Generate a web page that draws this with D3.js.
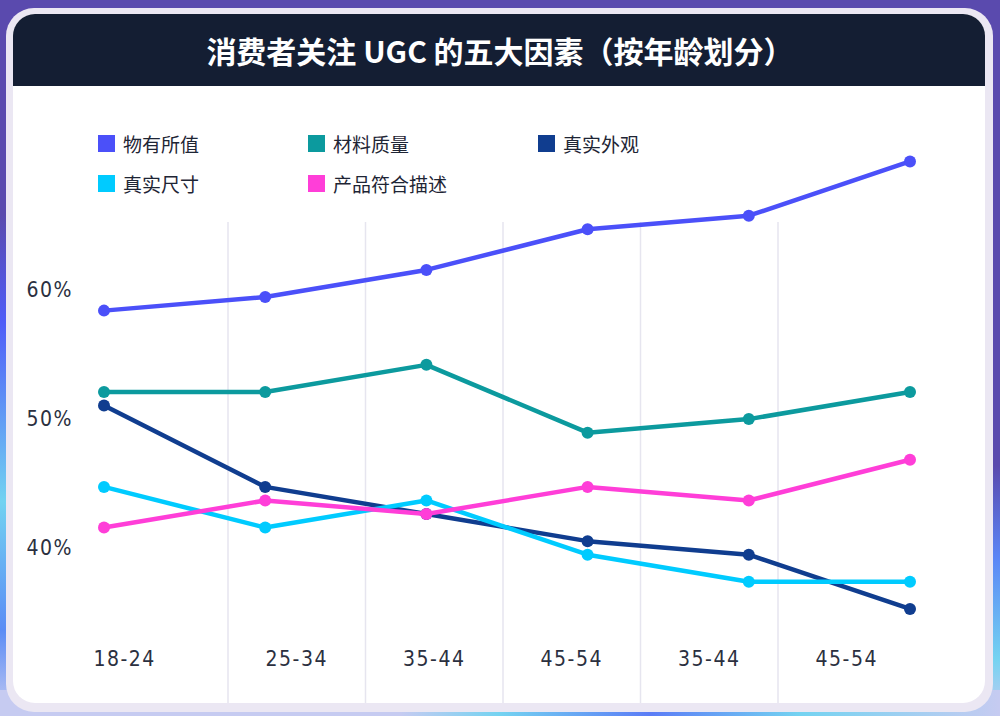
<!DOCTYPE html>
<html><head><meta charset="utf-8">
<script src="https://cdn.jsdelivr.net/npm/d3@7"></script>
<style>
html,body{margin:0;padding:0;background:#5a4aae;}
svg{display:block;}
</style></head>
<body>
<svg id="c" width="1000" height="716"></svg>
<script>
const title = "消费者关注 UGC 的五大因素（按年龄划分）";
const categories = ["18-24","25-34","35-44","45-54","35-44","45-54"];
const seriesNames = ["物有所值","材料质量","真实外观","真实尺寸","产品符合描述"];
const seriesColors = ["#4b50f9","#0c9a9e","#103d8f","#00cbff","#ff3ed8"];
const valueForMoney = [58, 59, 61, 64, 65, 69];
const materialQuality = [52, 52, 54, 49, 50, 52];
const realAppearance = [51, 45, 43, 41, 40, 36];
const realSize = [45, 42, 44, 40, 38, 38];
const matchDescription = [42, 44, 43, 45, 44, 47];
const yTicks = [40, 50, 60];

const series = [valueForMoney, materialQuality, realAppearance, realSize, matchDescription];

const svg = d3.select("#c");
const defs = svg.append("defs");

// background
const lg = defs.append("linearGradient").attr("id","bgL").attr("x1",0).attr("y1",0).attr("x2",0).attr("y2",1);
lg.append("stop").attr("offset","0%").attr("stop-color","#5a4aae");
lg.append("stop").attr("offset","30%").attr("stop-color","#5a4aae");
lg.append("stop").attr("offset","45%").attr("stop-color","#4f5cf8");
lg.append("stop").attr("offset","70%").attr("stop-color","#72d2f1");
lg.append("stop").attr("offset","88%").attr("stop-color","#5b8cf5");
lg.append("stop").attr("offset","100%").attr("stop-color","#c6cbf1");
const rg = defs.append("linearGradient").attr("id","bgR").attr("x1",0).attr("y1",0).attr("x2",0).attr("y2",1);
rg.append("stop").attr("offset","0%").attr("stop-color","#5a4aae");
rg.append("stop").attr("offset","65%").attr("stop-color","#5a4aae");
rg.append("stop").attr("offset","78%").attr("stop-color","#5b86f6");
rg.append("stop").attr("offset","92%").attr("stop-color","#74d3f1");
rg.append("stop").attr("offset","100%").attr("stop-color","#c6cbf1");
const bg = defs.append("linearGradient").attr("id","bgB").attr("x1",0).attr("y1",0).attr("x2",1).attr("y2",0);
bg.append("stop").attr("offset","0%").attr("stop-color","#c6cbf1");
bg.append("stop").attr("offset","40%").attr("stop-color","#c6cbf1");
bg.append("stop").attr("offset","50%").attr("stop-color","#74d3f1");
bg.append("stop").attr("offset","65%").attr("stop-color","#5b7cf6");
bg.append("stop").attr("offset","80%").attr("stop-color","#74d3f1");
bg.append("stop").attr("offset","100%").attr("stop-color","#c6cbf1");

svg.append("rect").attr("width",1000).attr("height",716).attr("fill","#5a4aae");
svg.append("rect").attr("x",0).attr("y",0).attr("width",40).attr("height",716).attr("fill","url(#bgL)");
svg.append("rect").attr("x",960).attr("y",0).attr("width",40).attr("height",716).attr("fill","url(#bgR)");
svg.append("rect").attr("x",0).attr("y",690).attr("width",1000).attr("height",26).attr("fill","url(#bgB)");

// card
svg.append("rect").attr("x",6).attr("y",8).attr("width",987).attr("height",704).attr("rx",28).attr("fill","#ebe7f3");
svg.append("rect").attr("x",13).attr("y",14).attr("width",972).attr("height",689).attr("rx",22).attr("fill","#ffffff");
defs.append("clipPath").attr("id","hdr").append("rect").attr("x",13).attr("y",14).attr("width",972).attr("height",72);
svg.append("rect").attr("x",13).attr("y",14).attr("width",972).attr("height",110).attr("rx",22)
  .attr("fill","#141e33").attr("clip-path","url(#hdr)");
svg.append("text").attr("x",500).attr("y",50).attr("text-anchor","middle").attr("dominant-baseline","central")
  .attr("fill","#ffffff").attr("font-family","'Noto Sans CJK SC', sans-serif").attr("font-weight","bold")
  .attr("font-size",30).text(title);

// scales
const idx = d3.range(categories.length);
const x = d3.scalePoint().domain(idx).range([104, 910]);
const xBand = d3.scaleBand().domain(idx).range([90.5, 915.5]);
const y = d3.scaleLinear().domain([30, 75]).range([690.3, 80.1]);
const yLabel = d3.scaleLinear().domain([30, 75]).range([677, 96.5]);

// gridlines
svg.append("g").selectAll("line").data(idx.slice(1)).join("line")
  .attr("x1",d=>xBand(d)).attr("x2",d=>xBand(d)).attr("y1",222).attr("y2",703)
  .attr("stroke","#e6e5ef").attr("stroke-width",1.5);

const axisFont = "'DejaVu Sans Condensed', 'DejaVu Sans', sans-serif";
// y axis labels
const yAxis = d3.axisLeft(yLabel).tickValues(yTicks).tickFormat(d=>d+"%").tickSize(0).tickPadding(0);
const gy = svg.append("g").attr("transform","translate(73,0)").call(yAxis);
gy.select(".domain").remove();
gy.selectAll("text").attr("font-family",axisFont).attr("font-stretch","condensed").attr("font-size",21)
  .attr("fill","#2b3040").attr("letter-spacing","1.5");

// x axis labels
const xAxis = d3.axisBottom(xBand).tickFormat(i=>categories[i]).tickSize(0).tickPadding(0);
const gx = svg.append("g").attr("transform","translate(0,651)").call(xAxis);
gx.select(".domain").remove();
gx.selectAll("text").attr("font-family",axisFont).attr("font-stretch","condensed").attr("font-size",21)
  .attr("fill","#2b3040").attr("letter-spacing","1.5");
gx.selectAll(".tick").filter(d=>d===0).select("text").attr("text-anchor","start").attr("x",-xBand.bandwidth()/2+3);

// lines
const line = d3.line().x((d,i)=>x(i)).y(d=>y(d));
series.forEach((s,k)=>{
  svg.append("path").datum(s).attr("d",line).attr("fill","none")
    .attr("stroke",seriesColors[k]).attr("stroke-width",4.5).attr("stroke-linejoin","round");
  svg.append("g").selectAll("circle").data(s).join("circle")
    .attr("cx",(d,i)=>x(i)).attr("cy",d=>y(d)).attr("r",6).attr("fill",seriesColors[k]);
});

// legend
const legendPos = [[98,135],[308,135],[538,135],[98,175],[308,175]];
const lgG = svg.append("g");
seriesNames.forEach((n,k)=>{
  const g = lgG.append("g").attr("transform",`translate(${legendPos[k][0]},${legendPos[k][1]})`);
  g.append("rect").attr("width",17).attr("height",17).attr("fill",seriesColors[k]);
  g.append("text").attr("x",25).attr("y",8.5).attr("dominant-baseline","central")
    .attr("font-family","'Noto Sans CJK SC', sans-serif").attr("font-size",19).attr("fill","#1e2535").text(n);
});
</script>
</body></html>
